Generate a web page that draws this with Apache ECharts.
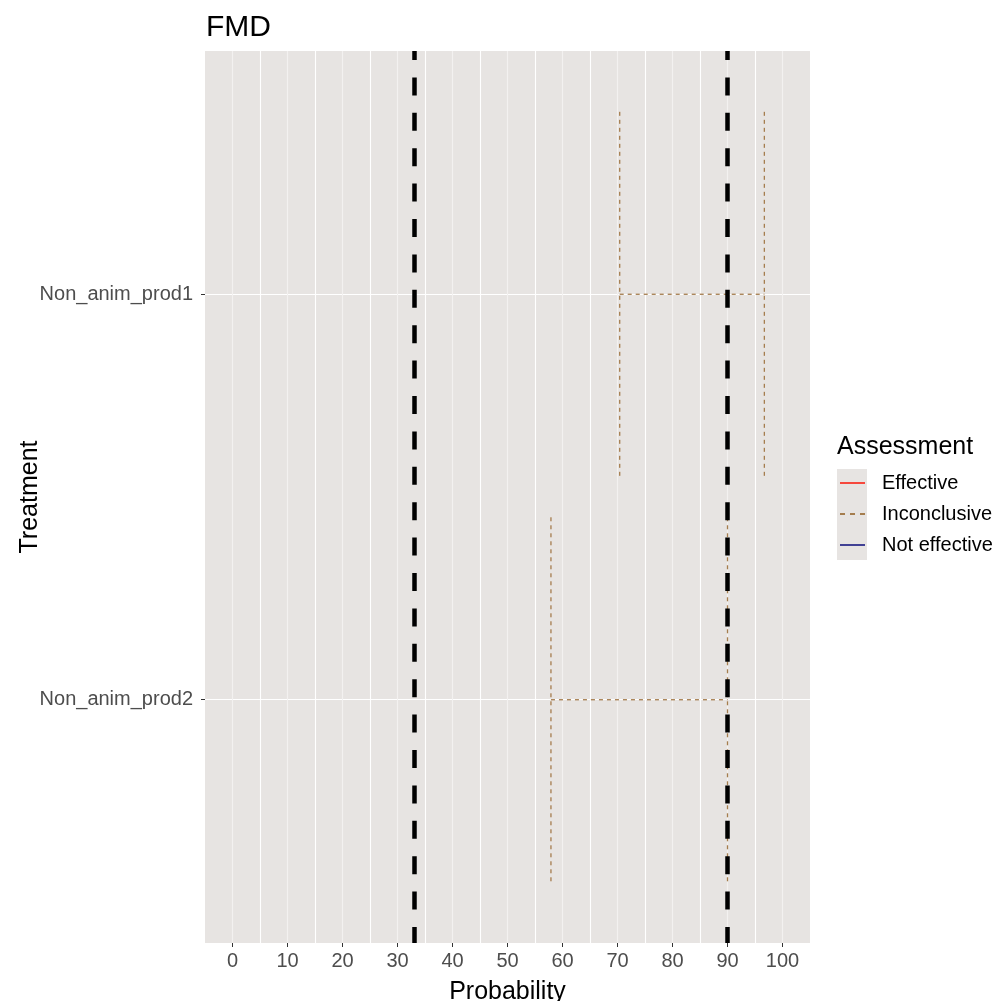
<!DOCTYPE html>
<html>
<head>
<meta charset="utf-8">
<script src="https://cdn.jsdelivr.net/npm/echarts@6/dist/echarts.min.js"></script>
<style>
html,body{margin:0;padding:0;background:#fff;}
#chart{width:995px;height:1001px;}
</style>
</head>
<body>
<div id="chart"></div>
<script>
const treatments = ['Non_anim_prod1', 'Non_anim_prod2'];
const lowerProb = [70.4, 57.9];
const upperProb = [96.7, 90.0];
const assessment = ['Inconclusive', 'Inconclusive'];
const thresholds = [33, 90];
const xTicks = [0, 10, 20, 30, 40, 50, 60, 70, 80, 90, 100];
const legendNames = ['Effective', 'Inconclusive', 'Not effective'];
const legendColors = ['#F8362B', '#A57D4E', '#2E2E8C'];
const legendTypes = ['solid', [4, 4], 'solid'];

const FONT = '"Liberation Sans", Arial, sans-serif';
const PANEL = '#E7E4E2';
const colorOf = {};
legendNames.forEach((n, i) => colorOf[n] = legendColors[i]);

const ICON_SOLID = 'path://M0,0H25V1.8H0Z';
const ICON_DASH = 'path://M0,0H5V1.8H0Z M10,0H15V1.8H10Z M20,0H25V1.8H20Z';

const barData = treatments.map((t, i) => [lowerProb[i], upperProb[i], i + 1, assessment[i]]);

const chart = echarts.init(document.getElementById('chart'), null, {renderer: 'canvas'});

const option = {
  backgroundColor: '#fff',
  animation: false,
  textStyle: {fontFamily: FONT},
  title: [
    {text: 'FMD', left: 201, top: 8, textStyle: {fontFamily: FONT, fontSize: 30, fontWeight: 'normal', color: '#000'}},
    {text: 'Assessment', left: 832, top: 430, textStyle: {fontFamily: FONT, fontSize: 25, fontWeight: 'normal', color: '#000'}}
  ],
  graphic: [
    {type: 'rect', left: 837, top: 469, shape: {width: 30, height: 91}, style: {fill: PANEL}, z: 0}
  ],
  legend: {
    data: legendNames.map((n, i) => ({name: n, icon: legendTypes[i] === 'solid' ? ICON_SOLID : ICON_DASH})),
    orient: 'vertical',
    left: 840,
    top: 473,
    padding: 0,
    itemWidth: 25,
    itemHeight: 20,
    itemGap: 11,
    textStyle: {fontFamily: FONT, fontSize: 20, color: '#000', padding: [0, 0, 0, 12]},
    selectedMode: false
  },
  grid: {left: 205, right: 185, top: 51, bottom: 58, containLabel: false, outerBoundsMode: 'none',
    backgroundColor: PANEL, show: true, borderWidth: 0},
  xAxis: [
    {
      type: 'value', min: -5, max: 105, interval: 5, position: 'bottom',
      axisLine: {show: false, onZero: false}, axisTick: {show: false}, axisLabel: {show: false},
      splitLine: {show: true, showMinLine: false, showMaxLine: false,
        lineStyle: {color: ['#F3F1F0', '#FFFFFF'], width: 1.1}}
    },
    {
      type: 'value', min: -5, max: 105, position: 'bottom',
      axisLine: {show: false, onZero: false},
      axisTick: {show: true, length: 4, customValues: xTicks, lineStyle: {color: '#333', width: 1}},
      axisLabel: {show: true, customValues: xTicks, margin: 8, fontFamily: FONT, fontSize: 20, color: '#4D4D4D'},
      splitLine: {show: false},
      name: 'Probability', nameLocation: 'middle', nameGap: 37,
      nameTextStyle: {fontFamily: FONT, fontSize: 25, color: '#000'}
    }
  ],
  yAxis: {
    type: 'value', min: 0.4, max: 2.6, inverse: true, position: 'left',
    axisLine: {show: false, onZero: false},
    axisTick: {show: true, length: 4, customValues: [1, 2], lineStyle: {color: '#333', width: 1}},
    axisLabel: {show: true, customValues: [1, 2], margin: 12, fontFamily: FONT, fontSize: 20, color: '#4D4D4D',
      formatter: v => treatments[Math.round(v) - 1] || ''},
    splitLine: {show: true, lineStyle: {color: '#FFFFFF', width: 1.1}},
    name: 'Treatment', nameLocation: 'middle', nameGap: 162, nameRotate: 90, nameMoveOverlap: false,
    nameTextStyle: {fontFamily: FONT, fontSize: 25, color: '#000'}
  },
  series: [
    {
      name: 'errorbars', type: 'custom', xAxisIndex: 0, yAxisIndex: 0, z: 3,
      data: barData,
      encode: {x: [0, 1], y: 2},
      renderItem: function (params, api) {
        const lo = api.value(0), hi = api.value(1), y = api.value(2);
        const col = colorOf[barData[params.dataIndex][3]];
        const p1 = api.coord([lo, y]);
        const p2 = api.coord([hi, y]);
        const h = api.size([0, 0.9])[1] / 2;
        const st = {stroke: col, lineWidth: 1.3, lineDash: [4, 4], fill: null};
        return {
          type: 'group',
          children: [
            {type: 'line', shape: {x1: p1[0], y1: p1[1], x2: p2[0], y2: p2[1]}, style: st},
            {type: 'line', shape: {x1: p1[0], y1: p1[1] - h, x2: p1[0], y2: p1[1] + h}, style: st},
            {type: 'line', shape: {x1: p2[0], y1: p2[1] - h, x2: p2[0], y2: p2[1] + h}, style: st}
          ]
        };
      }
    },
    {
      name: 'thresholds', type: 'line', xAxisIndex: 0, yAxisIndex: 0, data: [], z: 5,
      markLine: {
        silent: true, symbol: ['none', 'none'], label: {show: false},
        lineStyle: {color: '#000', width: 4.5, type: [18, 17.4], dashOffset: 9},
        emphasis: {disabled: true},
        data: thresholds.map(v => ({xAxis: v}))
      }
    }
  ].concat(legendNames.map((n, i) => ({
    name: n, type: 'line', xAxisIndex: 0, yAxisIndex: 0, data: [], symbol: 'none',
    itemStyle: {color: legendColors[i]},
    lineStyle: {color: legendColors[i], width: 1.2, type: legendTypes[i]}
  })))
};

chart.setOption(option);
</script>
</body>
</html>
